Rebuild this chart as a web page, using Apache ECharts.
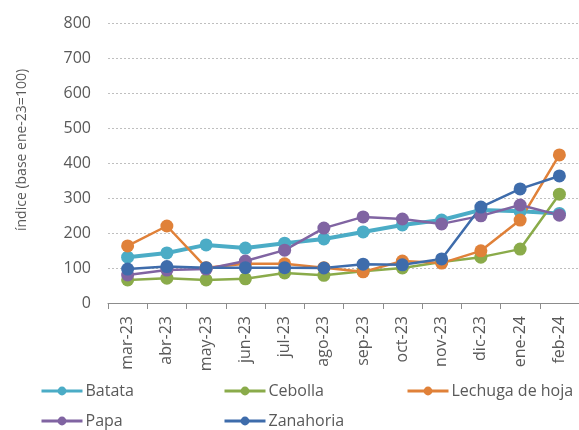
<!DOCTYPE html>
<html>
<head>
<meta charset="utf-8">
<script src="https://cdn.jsdelivr.net/npm/echarts@6/dist/echarts.min.js"></script>
<style>
html, body { margin: 0; padding: 0; background: #fff; }
#chart { width: 579px; height: 430px; }
</style>
</head>
<body>
<div id="chart"></div>
<script>
var months = ['mar-23', 'abr-23', 'may-23', 'jun-23', 'jul-23', 'ago-23', 'sep-23', 'oct-23', 'nov-23', 'dic-23', 'ene-24', 'feb-24'];
var batata    = [131, 143, 166, 157, 171, 183, 203, 223, 237, 266, 262, 256];
var cebolla   = [66, 71, 66, 69, 86, 79, 91, 100, 117, 131, 154, 311];
var lechuga   = [163, 220, 101, 112, 112, 101, 89, 120, 114, 149, 237, 423];
var papa      = [80, 94, 97, 120, 151, 214, 246, 240, 226, 249, 280, 251];
var zanahoria = [97, 104, 101, 101, 101, 100, 111, 109, 126, 274, 326, 363];
var yTicks = [0, 100, 200, 300, 400, 500, 600, 700, 800];

var txt = '#595959';
var font = 'Open Sans';

var chart = echarts.init(document.getElementById('chart'));

function serie(name, data, color, width) {
    return {
        name: name,
        type: 'line',
        data: data,
        symbol: 'circle',
        symbolSize: 13,
        color: color,
        lineStyle: { width: width, color: color },
        itemStyle: { color: color },
        emphasis: { disabled: true },
        animation: false
    };
}

// una leyenda por elemento, para imitar la cuadricula de 3 columnas
function leyenda(name, left, top) {
    return {
        data: [name],
        left: left,
        top: top,
        itemWidth: 41,
        itemHeight: 11,
        itemGap: 0,
        padding: 0,
        lineStyle: { width: 3 },
        textStyle: { color: txt, fontFamily: font, fontSize: 16, padding: [0, 0, 0, -2] }
    };
}

var option = {
    animation: false,
    grid: { left: 108, right: -11, top: 23, bottom: 127 },
    legend: [
        leyenda('Batata', 40, 383),
        leyenda('Cebolla', 223, 383),
        leyenda('Lechuga de hoja', 406, 383),
        leyenda('Papa', 40, 413),
        leyenda('Zanahoria', 223, 413)
    ],
    xAxis: {
        type: 'category',
        data: months,
        boundaryGap: true,
        axisLine: { lineStyle: { color: '#8c8c8c', width: 1 } },
        axisTick: { show: true, length: 6, lineStyle: { color: '#8c8c8c' } },
        axisLabel: { rotate: 90, color: txt, fontFamily: font, fontSize: 16, margin: 13 }
    },
    yAxis: {
        type: 'value',
        min: yTicks[0],
        max: yTicks[yTicks.length - 1],
        interval: 100,
        name: 'índice (base ene-23=100)',
        nameLocation: 'middle',
        nameGap: 79,
        nameTextStyle: { color: txt, fontFamily: font, fontSize: 14, padding: [0, 0, 0, 26] },
        axisLine: { show: false },
        axisTick: { show: false },
        axisLabel: { color: txt, fontFamily: font, fontSize: 16, margin: 17 },
        splitLine: { lineStyle: { color: '#bfbfbf', type: [2, 2], width: 1 } }
    },
    series: [
        serie('Batata', batata, '#4bacc6', 4),
        serie('Cebolla', cebolla, '#8aab4a', 2.5),
        serie('Lechuga de hoja', lechuga, '#e08139', 2.5),
        serie('Papa', papa, '#8064a2', 2.5),
        serie('Zanahoria', zanahoria, '#3e6cab', 2.5)
    ]
};

chart.setOption(option);
</script>
</body>
</html>
